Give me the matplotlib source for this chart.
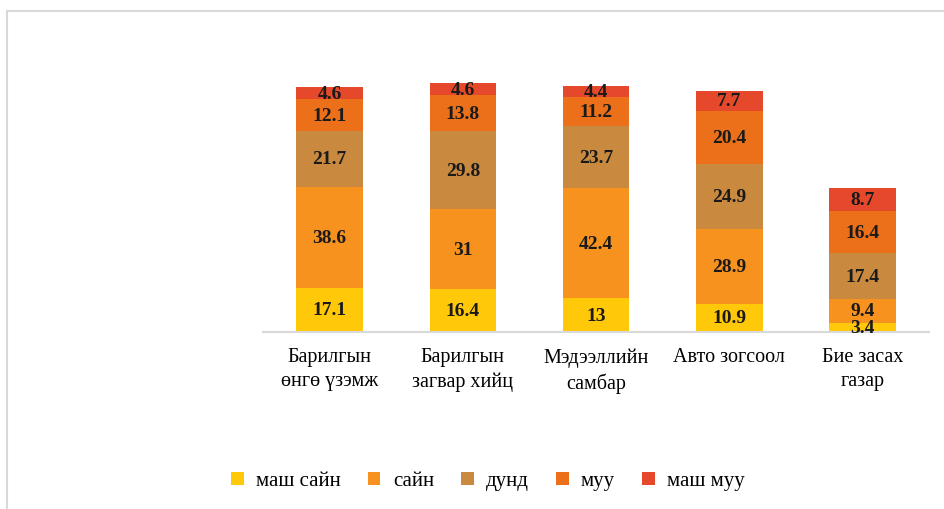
import numpy as np
import matplotlib.pyplot as plt
from matplotlib.lines import Line2D

categories = ['Барилгын\nөнгө үзэмж', 'Барилгын\nзагвар хийц', 'Мэдээллийн\nсамбар',
              'Авто зогсоол', 'Бие засах\nгазар']
series_names = ['маш сайн', 'сайн', 'дунд', 'муу', 'маш муу']
very_good = [17.1, 16.4, 13, 10.9, 3.4]
good = [38.6, 31, 42.4, 28.9, 9.4]
medium = [21.7, 29.8, 23.7, 24.9, 17.4]
bad = [12.1, 13.8, 11.2, 20.4, 16.4]
very_bad = [4.6, 4.6, 4.4, 7.7, 8.7]
series = [very_good, good, medium, bad, very_bad]
colors = ['#FFC808', '#F7921E', '#C98A40', '#EC7019', '#E5482A']

plt.rcParams['font.family'] = ['Liberation Serif', 'DejaVu Serif']

fig = plt.figure(figsize=(9.45, 5.1), dpi=100)
ax = fig.add_axes([263 / 945, 1 - 333 / 510, 666 / 945, 260 / 510])

x = np.arange(len(categories))
bottom = np.zeros(len(categories))
for name, vals, col in zip(series_names, series, colors):
    vals = np.array(vals, dtype=float)
    ax.bar(x, vals, bottom=bottom, width=0.5, color=col, label=name)
    for xi, b, v in zip(x, bottom, vals):
        ax.text(xi, b + v / 2, f'{v:g}', ha='center', va='center',
                fontsize=14, fontweight='bold', color='#1a1a1a')
    bottom += vals

ax.set_xlim(-0.5, len(categories) - 0.5)
ax.set_ylim(0, 100)
ax.set_xticks(x)
ax.set_xticklabels(categories, fontsize=14.5, linespacing=1.35)
ax.tick_params(axis='x', length=0, pad=11)
ax.set_yticks([])
for s in ['top', 'right', 'left']:
    ax.spines[s].set_visible(False)
ax.spines['bottom'].set_color('#d9d9d9')
ax.spines['bottom'].set_linewidth(1.5)

fig.legend(loc='center', bbox_to_anchor=(488 / 945, 1 - 482 / 510), ncol=5,
           frameon=False, fontsize=15, handlelength=0.6, handleheight=0.6,
           handletextpad=0.6, columnspacing=1.3)

# outer chart frame
fig.add_artist(Line2D([7 / 945, 1], [1 - 12 / 510, 1 - 12 / 510], color='#d9d9d9', lw=1.5))
fig.add_artist(Line2D([7 / 945, 7 / 945], [0, 1 - 12 / 510], color='#d9d9d9', lw=1.5))

fig.savefig('out.png', dpi=100)
